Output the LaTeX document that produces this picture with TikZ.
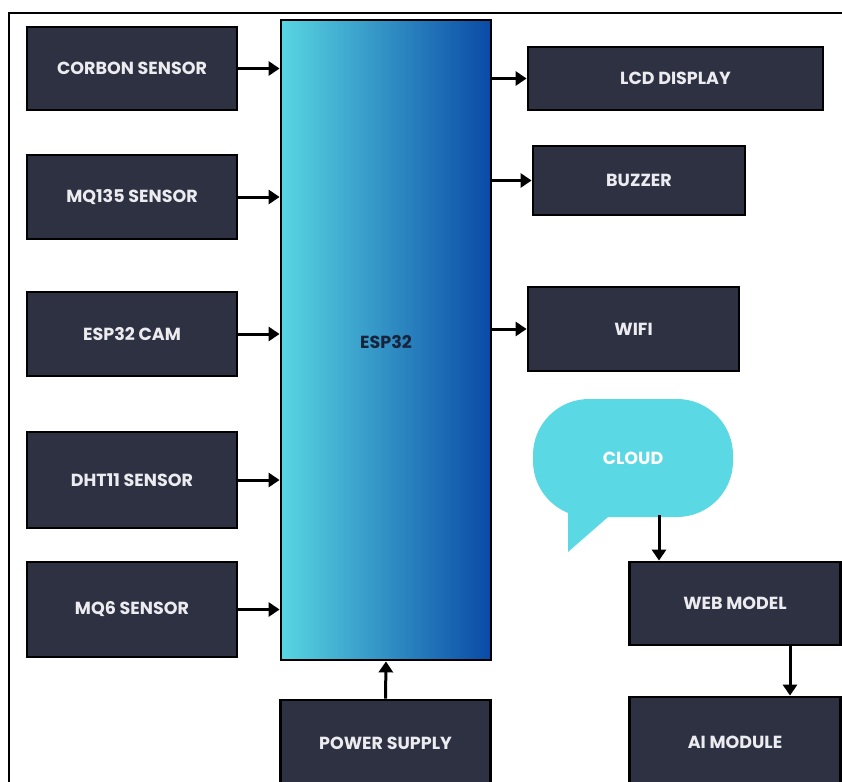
\documentclass[tikz,border=0pt]{standalone}
\usepackage{fontspec}
\setmainfont{Poppins}
\usetikzlibrary{arrows.meta}
\definecolor{boxfill}{HTML}{2D3142}
\definecolor{boxtext}{HTML}{ECECF0}
\definecolor{cyanL}{HTML}{58D6E2}
\definecolor{blueR}{HTML}{0A4AA6}
\definecolor{cloudc}{HTML}{5AD9E4}
\definecolor{esptext}{HTML}{17243C}
\tikzset{
  labelfont/.style={font=\fontsize{17.5}{20}\selectfont\bfseries},
  blockbox/.style={draw=black, line width=2.8pt, fill=boxfill, text=boxtext,
    labelfont, inner sep=0pt, align=center},
  link/.style={line width=3pt, -{Triangle[length=11pt,width=14pt]}}
}
\begin{document}
\begin{tikzpicture}[x=1pt,y=-1pt]
\useasboundingbox (0,0) rectangle (842,781);
\clip (0,0) rectangle (842,781);
\fill[white] (0,0) rectangle (842,781);
% frame
\draw[line width=1.6pt] (9,800) -- (9,13) -- (850,13);
% ESP32
\node[draw=black, line width=2.8pt, left color=cyanL, right color=blueR, minimum width=210pt, minimum height=640pt, inner sep=0pt] (esp) at (386,340) {};
\node[text=esptext, labelfont] (esplabel) at (386,342) {ESP32};
% left sensors
\node[blockbox, minimum width=210pt, minimum height=83pt] (corbon) at (132,68.5) {CORBON SENSOR};
\node[blockbox, minimum width=210pt, minimum height=84pt] (mq135) at (132,197) {MQ135 SENSOR};
\node[blockbox, minimum width=210pt, minimum height=84pt] (cam) at (132,334) {ESP32 CAM};
\node[blockbox, minimum width=210pt, minimum height=96pt] (dht) at (132,480) {DHT11 SENSOR};
\node[blockbox, minimum width=210pt, minimum height=95pt] (mq6) at (132,609.5) {MQ6 SENSOR};
% right outputs
\node[blockbox, minimum width=295pt, minimum height=63pt] (lcd) at (675.5,78.5) {LCD DISPLAY};
\node[blockbox, minimum width=212pt, minimum height=69pt] (buzzer) at (639,180.5) {BUZZER};
\node[blockbox, minimum width=211pt, minimum height=84pt] (wifi) at (633.5,329) {WIFI};
% power
\node[blockbox, minimum width=210pt, minimum height=86pt] (power) at (385.5,743) {POWER SUPPLY};
% cloud
\fill[cloudc] (568,495) -- (568,552) -- (616,510) -- cycle;
\node[fill=cloudc, rounded corners=56pt, minimum width=200pt, minimum height=118pt, inner sep=0pt, text=white, labelfont] (cloud) at (633,458) {CLOUD};
\node[blockbox, minimum width=211pt, minimum height=83pt] (web) at (735,603.5) {WEB MODEL};
\node[blockbox, minimum width=211pt, minimum height=90pt] (ai) at (735,742) {AI MODULE};
% connectors
\draw[link] (corbon.east) -- (corbon.east -| esp.west);
\draw[link] (mq135.east) -- (mq135.east -| esp.west);
\draw[link] (cam.east) -- (cam.east -| esp.west);
\draw[link] (dht.east) -- (dht.east -| esp.west);
\draw[link] (mq6.east) -- (mq6.east -| esp.west);
\draw[link] (esp.east |- lcd.west) -- (lcd.west);
\draw[link] (esp.east |- buzzer.west) -- (buzzer.west);
\draw[link] (esp.east |- wifi.west) -- (wifi.west);
\draw[link] (power.north) -- (esp.south);
\coordinate (cloudout) at (659,515);
\draw[link] (cloudout) -- (cloudout |- web.north);
\coordinate (webout) at (790,645);
\draw[link] (webout) -- (webout |- ai.north);
\end{tikzpicture}
\end{document}
